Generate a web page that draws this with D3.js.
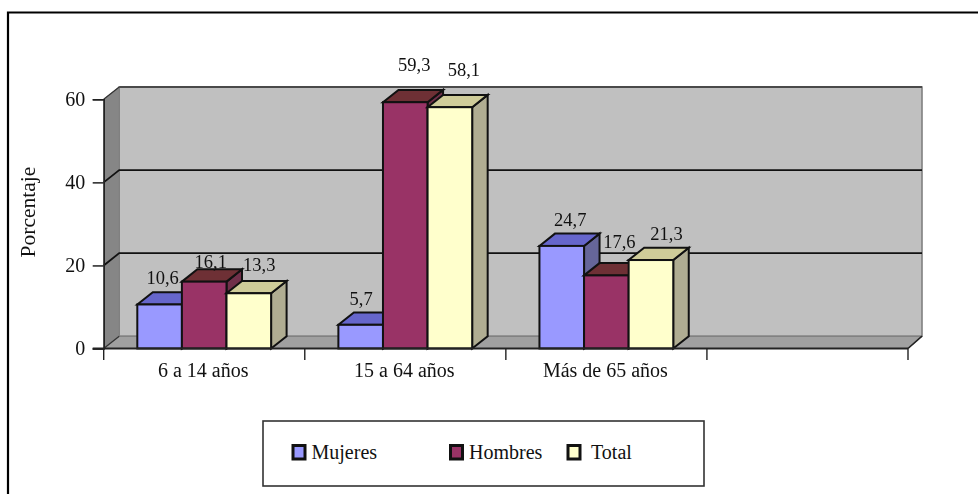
<!DOCTYPE html>
<html><head><meta charset="utf-8">
<script src="https://cdn.jsdelivr.net/npm/d3@7/dist/d3.min.js"></script>
<style>html,body{margin:0;padding:0;background:#fff}svg{display:block;filter:blur(.3px)}text{font-family:"Liberation Serif",serif;fill:#111}</style>
</head><body><script>
const categories = ["6 a 14 años", "15 a 64 años", "Más de 65 años", ""];
const seriesNames = ["Mujeres", "Hombres", "Total"];
const mujeres = [10.6, 5.7, 24.7];
const hombres = [16.1, 59.3, 17.6];
const total = [13.3, 58.1, 21.3];
const yTicks = [0, 20, 40, 60];
const seriesValues = [mujeres, hombres, total];

const W = 978, H = 494;
const svg = d3.select("body").append("svg").attr("width", W).attr("height", H);
const x0 = d3.scaleBand().domain(d3.range(categories.length)).range([103.7, 908]);
const y = d3.scaleLinear().domain([0, 60]).range([348.5, 99.3]);
const barW = 44.6, barStart = 33.6, dx = 15.5, dy = -12.3, wallR = 922;
const fronts = ["#9999ff", "#993366", "#ffffcc"];
const tops = ["#6666cc", "#6e3035", "#cfcc99"];
const sides = ["#666699", "#70304a", "#b0ad92"];
const ink = "#111";

// outer frame (runs off the right and bottom of the picture)
svg.append("path").attr("d", `M8 ${H}V12.5H${W}`).attr("fill", "none").attr("stroke", "#000").attr("stroke-width", 2.2);

const xL = x0.range()[0], xR = x0.range()[1], y0 = y(0), yT = y(60);
const poly = (pts, fill, stroke, sw) => svg.append("polygon").attr("points", pts.map(p => p.join(",")).join(" "))
  .attr("fill", fill).attr("stroke", stroke).attr("stroke-width", sw);
// walls and floor
poly([[xL + dx, y0 + dy], [xL + dx, yT + dy], [wallR, yT + dy], [wallR, y0 + dy]], "#c0c0c0", "#808080", 1.6);
poly([[xL, y0], [xL, yT], [xL + dx, yT + dy], [xL + dx, y0 + dy]], "#868686", "#808080", 1);
poly([[xL, y0], [xL + dx, y0 + dy], [wallR, y0 + dy], [xR, y0]], "#a0a0a0", "#777", 1);
svg.append("line").attr("x1", xL + dx).attr("x2", wallR).attr("y1", yT + dy).attr("y2", yT + dy).attr("stroke", "#4a4a4a").attr("stroke-width", 1.8);

// gridlines along both walls
yTicks.filter(t => t > 0 && t < 60).forEach(t => {
  svg.append("path").attr("d", `M${xL} ${y(t)}L${xL + dx} ${y(t) + dy}H${wallR}`).attr("fill", "none").attr("stroke", ink).attr("stroke-width", 1.8);
});
svg.append("path").attr("d", `M${xL} ${yT}L${xL + dx} ${yT + dy}`).attr("fill", "none").attr("stroke", "#333").attr("stroke-width", 1.2);
svg.append("path").attr("d", `M${xL} ${y0}L${xL + dx} ${y0 + dy}`).attr("fill", "none").attr("stroke", "#333").attr("stroke-width", 1.2);
svg.append("path").attr("d", `M${xR} ${y0}L${wallR} ${y0 + dy}`).attr("fill", "none").attr("stroke", "#222").attr("stroke-width", 1.6);

// bars
const edge = 2;
categories.slice(0, 3).forEach((c, i) => {
  seriesValues.forEach((vals, s) => {
    const left = x0(i) + barStart + s * barW, r = left + barW, top = y(vals[i]);
    poly([[r, y0], [r, top], [r + dx, top + dy], [r + dx, y0 + dy]], sides[s], ink, edge);
    poly([[left, top], [left + dx, top + dy], [r + dx, top + dy], [r, top]], tops[s], ink, edge);
    svg.append("rect").attr("x", left).attr("y", top).attr("width", barW).attr("height", y0 - top)
      .attr("fill", fronts[s]).attr("stroke", ink).attr("stroke-width", edge);
  });
});

// axes
const axisColor = "#222";
const yAxis = svg.append("g").attr("transform", `translate(${xL},0)`)
  .call(d3.axisLeft(y).tickValues(yTicks).tickSize(11).tickPadding(7.5));
yAxis.select(".domain").attr("stroke", axisColor).attr("stroke-width", 1.6);
yAxis.selectAll("line").attr("stroke", axisColor).attr("stroke-width", 1.5);
yAxis.selectAll("text").attr("font-size", 20).style("font-family", '"Liberation Serif",serif').attr("fill", "#111");

svg.append("line").attr("x1", xL - 11).attr("x2", xR).attr("y1", y0).attr("y2", y0).attr("stroke", axisColor).attr("stroke-width", 1.8);
x0.domain().concat([categories.length]).forEach(k => {
  const xx = k < categories.length ? x0(k) : xR;
  svg.append("line").attr("x1", xx).attr("x2", xx).attr("y1", y0).attr("y2", y0 + 11.5).attr("stroke", axisColor).attr("stroke-width", 1.4);
});
categories.forEach((c, i) => {
  svg.append("text").attr("x", x0(i) + x0.bandwidth() / 2 - 1).attr("y", 376.5).attr("text-anchor", "middle").attr("font-size", 20).text(c);
});

// value labels, with the hand placement seen in the picture
const nudgeX = [[3, 6.5, 10.5], [0.5, 9, 14], [8.5, 13, 15.5]];
const nudgeY = [[-20.5, -14, -22], [-20, -31, -31], [-20, -27, -20.5]];
categories.slice(0, 3).forEach((c, i) => {
  seriesValues.forEach((vals, s) => {
    svg.append("text").attr("x", x0(i) + barStart + (s + .5) * barW + nudgeX[i][s]).attr("y", y(vals[i]) + nudgeY[i][s])
      .attr("text-anchor", "middle").attr("font-size", 18.5).text(vals[i].toFixed(1).replace(".", ","));
  });
});

svg.append("text").attr("transform", "translate(35,212) rotate(-90)").attr("text-anchor", "middle").attr("font-size", 21.5).text("Porcentaje");

// legend
svg.append("rect").attr("x", 263).attr("y", 421).attr("width", 441).attr("height", 65).attr("fill", "#fff").attr("stroke", "#333").attr("stroke-width", 1.6);
const legendSwatchX = [293, 450.5, 568], legendTextX = [311.5, 469, 591];
seriesNames.forEach((n, s) => {
  svg.append("rect").attr("x", legendSwatchX[s]).attr("y", 445.5).attr("width", 12).attr("height", 13.5).attr("fill", fronts[s]).attr("stroke", "#111").attr("stroke-width", 3);
  svg.append("text").attr("x", legendTextX[s]).attr("y", 459).attr("font-size", 20).text(n);
});
</script></body></html>
